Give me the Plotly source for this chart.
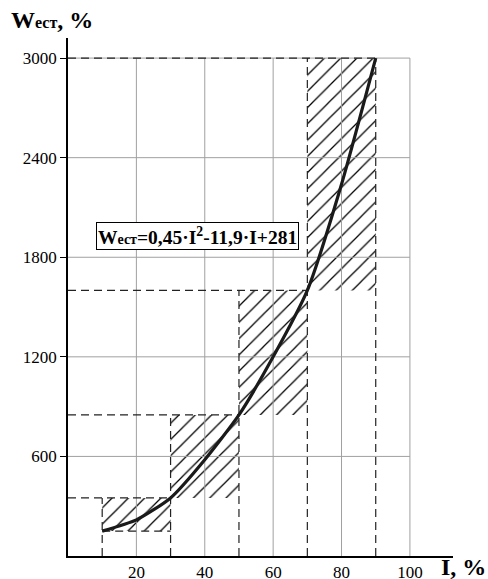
import plotly.graph_objects as go

# ---- data ----
I_vals = [10, 20, 30, 40, 50, 60, 70, 80, 90]
W_vals = [150, 218, 350, 580, 850, 1200, 1600, 2240, 3000]

# interval rectangles (hatched)
rect_I_left = [10, 30, 50, 70]
rect_I_right = [30, 50, 70, 90]
rect_W_low = [150, 350, 850, 1600]
rect_W_high = [350, 850, 1600, 3000]

x_ticks = [20, 40, 60, 80, 100]
y_ticks = [600, 1200, 1800, 2400, 3000]
x_tick_labels = ["20", "40", "60", "80", "100"]
y_tick_labels = ["600", "1200", "1800", "2400", "3000"]

FONT = "Liberation Serif"
fig = go.Figure()

# grid lines limited to [0,100] x [0,3000]
gx, gy = [], []
for xv in x_ticks:
    gx += [xv, xv, None]
    gy += [0, y_ticks[-1], None]
for yv in y_ticks:
    gx += [0, x_ticks[-1], None]
    gy += [yv, yv, None]
fig.add_trace(go.Scatter(x=gx, y=gy, mode="lines",
                         line=dict(color="#a0a0a0", width=1),
                         hoverinfo="skip", showlegend=False))

# hatched rectangles as bars
centers = [(a + b) / 2 for a, b in zip(rect_I_left, rect_I_right)]
widths = [b - a for a, b in zip(rect_I_left, rect_I_right)]
heights = [h - l for l, h in zip(rect_W_low, rect_W_high)]
fig.add_trace(go.Bar(x=centers, y=heights, base=rect_W_low, width=widths,
                     marker=dict(color="rgba(255,255,255,0)",
                                 line=dict(width=0),
                                 pattern=dict(shape="/", fgcolor="#000000",
                                              fgopacity=1,
                                              bgcolor="rgba(255,255,255,0)",
                                              size=11.5, solidity=0.11)),
                     hoverinfo="skip", showlegend=False))

# dashed construction lines
dx, dy = [], []
dx += [rect_I_left[0], rect_I_right[0], None]
dy += [rect_W_low[0], rect_W_low[0], None]
for r, top in zip(rect_I_right, rect_W_high):
    dx += [0, r, None]
    dy += [top, top, None]
for l, top in zip(rect_I_left, rect_W_high):
    dx += [l, l, None]
    dy += [0, top, None]
dx += [rect_I_right[-1], rect_I_right[-1], None]
dy += [0, rect_W_high[-1], None]
fig.add_trace(go.Scatter(x=dx, y=dy, mode="lines",
                         line=dict(color="#222", width=1.2, dash="8px,5px"),
                         hoverinfo="skip", showlegend=False))

# curve
fig.add_trace(go.Scatter(x=I_vals, y=W_vals, mode="lines",
                         line=dict(color="#1a1a1a", width=3.2, shape="spline", smoothing=0.6),
                         hoverinfo="skip", showlegend=False))

# plot area in pixels: x 68..453, y 38..556
PL, PR, PT, PB = 68, 453, 38, 556
def px(xp):
    return (xp - PL) / (PR - PL)
def py(yp):
    return (PB - yp) / (PB - PT)

fig.update_layout(
    width=488, height=579,
    margin=dict(l=PL, r=488 - PR, t=PT, b=579 - PB),
    paper_bgcolor="white", plot_bgcolor="white",
    font=dict(family=FONT, size=16, color="black"),
    barmode="overlay",
    xaxis=dict(range=[0, 112.6], showgrid=False, zeroline=False, automargin=False,
               showline=True, linecolor="black", linewidth=1.5,
               tickvals=x_ticks, ticktext=x_tick_labels, ticks="",
               ticklabelstandoff=0,
               tickfont=dict(family=FONT, size=17, color="black")),
    yaxis=dict(range=[0, 3121], showgrid=False, zeroline=False, automargin=False,
               showline=True, linecolor="black", linewidth=1.5,
               tickvals=y_ticks, ticktext=y_tick_labels, ticks="outside",
               ticklen=6, tickcolor="black", tickwidth=1,
               tickfont=dict(family=FONT, size=17, color="black")),
    annotations=[
        dict(x=37.8, y=1927, xref="x", yref="y",
             text="<b>W<span style='font-size:14px'>ест</span>=0,45·I<sup>2</sup>-11,9·I+281</b>",
             showarrow=False, font=dict(family=FONT, size=19.5, color="black"),
             bgcolor="white", bordercolor="black", borderwidth=1, borderpad=1),
        dict(x=px(9), y=py(5), xref="paper", yref="paper",
             xanchor="left", yanchor="top",
             text="<b>W<span style='font-size:16px'>ест</span>, %</b>",
             showarrow=False, font=dict(family=FONT, size=24, color="black")),
        dict(x=px(488), y=py(582), xref="paper", yref="paper",
             xanchor="right", yanchor="bottom",
             text="<b>I, %</b>",
             showarrow=False, font=dict(family=FONT, size=24, color="black")),
    ],
)

fig.write_html("out.html")
